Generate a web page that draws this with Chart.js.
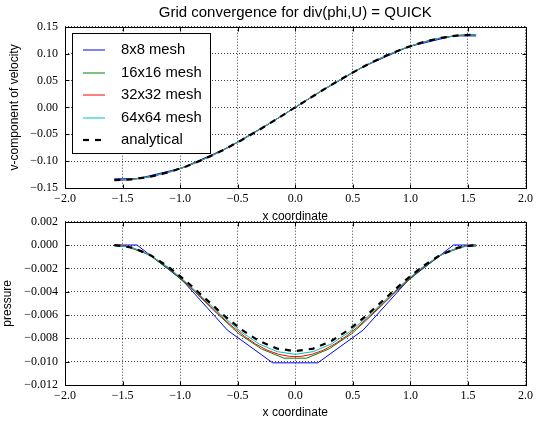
<!DOCTYPE html>
<html><head><meta charset="utf-8">
<script src="https://cdn.jsdelivr.net/npm/chart.js@4/dist/chart.umd.min.js"></script>
<style>
html,body{margin:0;padding:0;background:#fff;}
#wrap{position:relative;width:537px;height:423px;overflow:hidden;background:#fff;}
.c{position:absolute;left:0;}
</style></head><body>
<div id="wrap">
<canvas id="top" class="c" style="top:0" width="537" height="225"></canvas>
<canvas id="bot" class="c" style="top:200px" width="537" height="223"></canvas>
</div>
<script>
// ---------- data ----------
const seriesLabels = ['8x8 mesh', '16x16 mesh', '32x32 mesh', '64x64 mesh', 'analytical'];

const xTicks = [-2.0, -1.5, -1.0, -0.5, 0.0, 0.5, 1.0, 1.5, 2.0];
const vTicks = [-0.15, -0.10, -0.05, 0.00, 0.05, 0.10, 0.15];
const pTicks = [-0.012, -0.010, -0.008, -0.006, -0.004, -0.002, 0.000, 0.002];

const x8 = [-1.571, -1.374, -0.982, -0.589, -0.196, 0.196, 0.589, 0.982, 1.374, 1.571];
const v8 = [-0.1329, -0.1329, -0.1127, -0.0753, -0.0264, 0.0264, 0.0753, 0.1127, 0.1329, 0.1329];
const p8 = [0.0000, 0.0000, -0.0030, -0.0073, -0.0101, -0.0101, -0.0073, -0.0030, 0.0000, 0.0000];

const x16 = [-1.571, -1.473, -1.276, -1.080, -0.884, -0.687, -0.491, -0.295, -0.098,
             0.098, 0.295, 0.491, 0.687, 0.884, 1.080, 1.276, 1.473, 1.571];
const v16 = [-0.1349, -0.1349, -0.1297, -0.1195, -0.1047, -0.0860, -0.0639, -0.0393, -0.0133,
             0.0133, 0.0393, 0.0639, 0.0860, 0.1047, 0.1195, 0.1297, 0.1349, 0.1349];
const p16 = [-0.0001, -0.0001, -0.0008, -0.0022, -0.0039, -0.0058, -0.0076, -0.0089, -0.0097,
             -0.0097, -0.0089, -0.0076, -0.0058, -0.0039, -0.0022, -0.0008, -0.0001, -0.0001];

const x32 = [-1.571, -1.522, -1.424, -1.325, -1.227, -1.129, -1.031, -0.933, -0.834, -0.736, -0.638,
             -0.540, -0.442, -0.344, -0.245, -0.147, -0.049,
             0.049, 0.147, 0.245, 0.344, 0.442, 0.540, 0.638, 0.736, 0.834, 0.933, 1.031,
             1.129, 1.227, 1.325, 1.424, 1.522, 1.571];
const v32 = [-0.1353, -0.1353, -0.1340, -0.1314, -0.1276, -0.1225, -0.1162, -0.1088, -0.1004, -0.0910, -0.0807,
             -0.0697, -0.0579, -0.0456, -0.0329, -0.0199, -0.0066,
             0.0066, 0.0199, 0.0329, 0.0456, 0.0579, 0.0697, 0.0807, 0.0910, 0.1004, 0.1088, 0.1162,
             0.1225, 0.1276, 0.1314, 0.1340, 0.1353, 0.1353];
const p32 = [0.0000, 0.0000, -0.00021, -0.00056, -0.00109, -0.00175, -0.00253, -0.00340, -0.00432, -0.00526, -0.00617,
             -0.00704, -0.00782, -0.00848, -0.00901, -0.00936, -0.00955,
             -0.00955, -0.00936, -0.00901, -0.00848, -0.00782, -0.00704, -0.00617, -0.00526, -0.00432, -0.00340, -0.00253,
             -0.00175, -0.00109, -0.00056, -0.00021, 0.0000, 0.0000];

const x64 = [-1.571, -1.414, -1.257, -1.100, -0.942, -0.785, -0.628, -0.471, -0.314, -0.157, 0.000,
             0.157, 0.314, 0.471, 0.628, 0.785, 0.942, 1.100, 1.257, 1.414, 1.571];
const v64 = [-0.1354, -0.1338, -0.1289, -0.1207, -0.1096, -0.0958, -0.0796, -0.0615, -0.0419, -0.0212, 0.0000,
             0.0212, 0.0419, 0.0615, 0.0796, 0.0958, 0.1096, 0.1207, 0.1289, 0.1338, 0.1354];
const p64 = [0.0000, -0.00023, -0.00089, -0.00193, -0.00324, -0.00469, -0.00613, -0.00744, -0.00848, -0.00914, -0.00937,
             -0.00914, -0.00848, -0.00744, -0.00613, -0.00469, -0.00324, -0.00193, -0.00089, -0.00023, 0.0000];

const xA = [-1.571, -1.414, -1.257, -1.100, -0.942, -0.785, -0.628, -0.471, -0.314, -0.157, 0.000,
            0.157, 0.314, 0.471, 0.628, 0.785, 0.942, 1.100, 1.257, 1.414, 1.571];
const vA = [-0.1355, -0.1338, -0.1289, -0.1207, -0.1096, -0.0958, -0.0796, -0.0615, -0.0419, -0.0212, 0.0000,
            0.0212, 0.0419, 0.0615, 0.0796, 0.0958, 0.1096, 0.1207, 0.1289, 0.1338, 0.1355];
const pA = [0.0000, -0.00022, -0.00087, -0.00188, -0.00314, -0.00455, -0.00596, -0.00722, -0.00823, -0.00888, -0.00910,
            -0.00888, -0.00823, -0.00722, -0.00596, -0.00455, -0.00314, -0.00188, -0.00087, -0.00022, 0.0000];

// ---------- helpers ----------
const SANS = '"Liberation Sans", Arial, Helvetica, sans-serif';
const SERIF = '"Liberation Serif", "Times New Roman", serif';
const pts = (xs, ys) => xs.map((x, i) => ({x: x, y: ys[i]}));
const fmt = d => v => (v < -1e-12 ? '\u2212' : '') + Math.abs(v).toFixed(d);

const styles = [
  {color: '#0000ff', width: 1, dash: [], order: 5},
  {color: '#008000', width: 1, dash: [], order: 4},
  {color: '#ff0000', width: 1, dash: [], order: 3},
  {color: '#00bfbf', width: 1, dash: [], order: 2},
  {color: '#000000', width: 2.2, dash: [6, 6], order: 1}
];

function makeDatasets(seriesList) {
  return seriesList.map((d, i) => ({
    label: seriesLabels[i],
    data: d,
    borderColor: styles[i].color,
    borderWidth: styles[i].width,
    borderDash: styles[i].dash,
    order: styles[i].order,
    pointRadius: 0,
    tension: 0,
    fill: false
  }));
}

const framePlugin = {
  id: 'frame',
  afterDatasetsDraw(chart) {
    const {ctx, chartArea: a, scales} = chart;
    const L = 4;
    const l = Math.round(a.left) + 0.5, r = Math.round(a.right) + 0.5;
    const t = Math.round(a.top) + 0.5, b = Math.round(a.bottom) + 0.5;
    ctx.save();
    ctx.strokeStyle = '#000';
    ctx.lineWidth = 1;
    ctx.setLineDash([]);
    ctx.beginPath();
    scales.x.ticks.forEach(tk => {
      const px = Math.round(scales.x.getPixelForValue(tk.value)) + 0.5;
      ctx.moveTo(px, b); ctx.lineTo(px, b - L);
      ctx.moveTo(px, t); ctx.lineTo(px, t + L);
    });
    scales.y.ticks.forEach(tk => {
      const py = Math.round(scales.y.getPixelForValue(tk.value)) + 0.5;
      ctx.moveTo(l, py); ctx.lineTo(l + L, py);
      ctx.moveTo(r, py); ctx.lineTo(r - L, py);
    });
    ctx.stroke();
    ctx.strokeRect(l, t, r - l, b - t);
    ctx.restore();
  }
};

const boxLegendPlugin = {
  id: 'boxLegend',
  afterDraw(chart, args, opts) {
    if (!opts.display) return;
    const {ctx, chartArea: a} = chart;
    const x0 = Math.round(a.left + 7) + 0.5, y0 = Math.round(a.top + 6) + 0.5;
    ctx.save();
    ctx.fillStyle = '#fff';
    ctx.fillRect(x0, y0, 138, 120);
    ctx.strokeStyle = '#000';
    ctx.lineWidth = 1;
    ctx.strokeRect(x0, y0, 138, 120);
    ctx.font = '14.8px ' + SANS;
    ctx.textBaseline = 'middle';
    ctx.textAlign = 'left';
    chart.data.datasets.forEach((ds, i) => {
      const y = Math.round(a.top + 23.3 + i * 22.5);
      ctx.beginPath();
      ctx.strokeStyle = ds.borderColor;
      ctx.lineWidth = ds.borderWidth;
      ctx.setLineDash(ds.borderDash || []);
      ctx.moveTo(a.left + 18, y);
      ctx.lineTo(a.left + 40, y);
      ctx.stroke();
      ctx.setLineDash([]);
      ctx.fillStyle = '#000';
      ctx.fillText(ds.label, a.left + 56, y);
    });
    ctx.restore();
  }
};

function xScale(h, titlePadBottom) {
  return {
    type: 'linear', min: -2, max: 2,
    afterBuildTicks: s => { s.ticks = xTicks.map(v => ({value: v})); },
    afterFit: s => { s.height = h; },
    grid: {color: 'rgba(0,0,0,0.75)', lineWidth: 1, drawTicks: false},
    border: {display: false, dash: [1, 2]},
    ticks: {callback: fmt(1), font: {family: SERIF, size: 12}, color: '#000', padding: 4, maxRotation: 0, autoSkip: false},
    title: {display: true, text: 'x coordinate', font: {family: SANS, size: 12}, color: '#000',
            padding: {top: 0, bottom: titlePadBottom}}
  };
}
function yScale(min, max, ticks, dec, title, titlePadTop) {
  return {
    type: 'linear', min: min, max: max,
    afterBuildTicks: s => { s.ticks = ticks.map(v => ({value: v})); },
    afterFit: s => { s.width = 65; },
    grid: {color: 'rgba(0,0,0,0.75)', lineWidth: 1, drawTicks: false},
    border: {display: false, dash: [1, 2]},
    ticks: {callback: fmt(dec), font: {family: SERIF, size: 12}, color: '#000', padding: 7, autoSkip: false},
    title: {display: true, text: title, font: {family: SANS, size: 12}, color: '#000',
            padding: {top: titlePadTop, bottom: 0}}
  };
}

Chart.defaults.font.family = SANS;

new Chart(document.getElementById('top'), {
  type: 'line',
  data: {datasets: makeDatasets([pts(x8, v8), pts(x16, v16), pts(x32, v32), pts(x64, v64), pts(xA, vA)])},
  options: {
    responsive: false, animation: false, devicePixelRatio: 1,
    layout: {padding: {left: 0, right: 9, top: 0, bottom: 0}},
    plugins: {
      legend: {display: false},
      tooltip: {enabled: false},
      title: {display: true, fullSize: false, text: 'Grid convergence for div(phi,U) = QUICK',
              font: {family: SANS, size: 15, weight: 'normal', lineHeight: 1.2}, color: '#000',
              padding: {top: 3.5, bottom: 5.2}},
      boxLegend: {display: true}
    },
    scales: {
      x: xScale(37, 1.3),
      y: yScale(-0.15, 0.15, vTicks, 2, 'v-component of velocity', 7)
    }
  },
  plugins: [framePlugin, boxLegendPlugin]
});

new Chart(document.getElementById('bot'), {
  type: 'line',
  data: {datasets: makeDatasets([pts(x8, p8), pts(x16, p16), pts(x32, p32), pts(x64, p64), pts(xA, pA)])},
  options: {
    responsive: false, animation: false, devicePixelRatio: 1,
    layout: {padding: {left: 0, right: 9, top: 21.7, bottom: 0}},
    plugins: {
      legend: {display: false},
      tooltip: {enabled: false},
      title: {display: false},
      boxLegend: {display: false}
    },
    scales: {
      x: xScale(38, 3),
      y: yScale(-0.012, 0.002, pTicks, 3, 'pressure', 0)
    }
  },
  plugins: [framePlugin, boxLegendPlugin]
});
</script>
</body></html>
